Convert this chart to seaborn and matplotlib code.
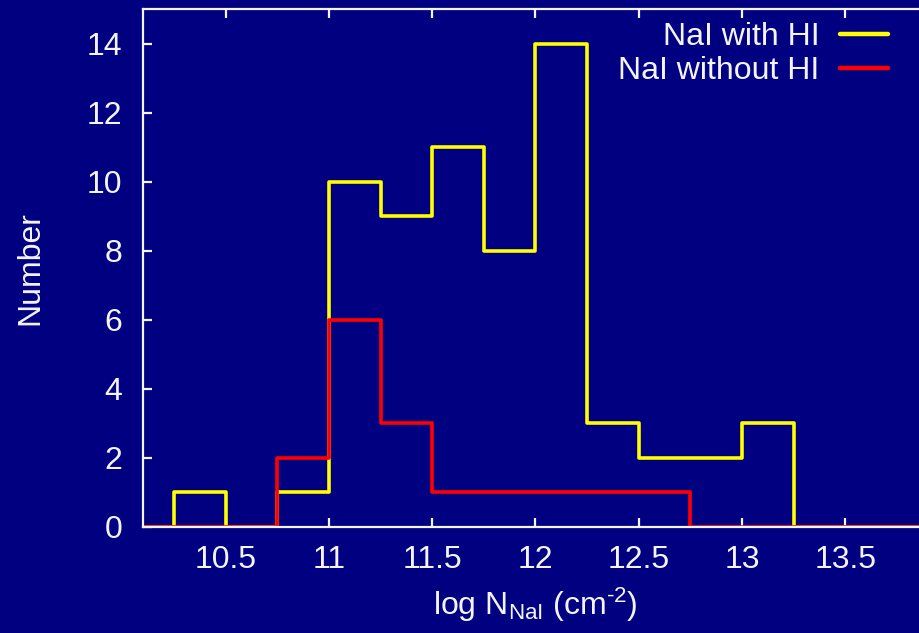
import numpy as np
import pandas as pd
import matplotlib
matplotlib.use("Agg")
import matplotlib.pyplot as plt
from matplotlib.lines import Line2D
import seaborn as sns

# Histogram bins in log N(NaI) and the counts per bin
bin_edges = [10.0, 10.25, 10.5, 10.75, 11.0, 11.25, 11.5, 11.75, 12.0,
             12.25, 12.5, 12.75, 13.0, 13.25, 13.5, 13.75, 14.0]
with_hi = [0, 1, 0, 1, 10, 9, 11, 8, 14, 3, 2, 2, 3, 0, 0, 0]
without_hi = [0, 0, 0, 2, 6, 3, 1, 1, 1, 1, 1, 0, 0, 0, 0, 0]

x_ticks = [10.5, 11, 11.5, 12, 12.5, 13, 13.5]
x_tick_labels = ["10.5", "11", "11.5", "12", "12.5", "13", "13.5"]
y_ticks = [0, 2, 4, 6, 8, 10, 12, 14]

series_labels = ["NaI with HI", "NaI without HI"]
series_colors = ["#ffff00", "#ff0000"]

BG = "#000080"
FG = "#f4f4ff"

sns.set_theme(style="white")
plt.rcParams["font.family"] = ["Liberation Sans", "DejaVu Sans"]
plt.rcParams["mathtext.fontset"] = "custom"
plt.rcParams["mathtext.rm"] = "Liberation Sans"
plt.rcParams["mathtext.it"] = "Liberation Sans:italic"

centers = [(a + b) / 2 for a, b in zip(bin_edges[:-1], bin_edges[1:])]
df = pd.DataFrame({"center": centers, "with": with_hi, "without": without_hi})

W, H = 919, 633
fig = plt.figure(figsize=(W / 100, H / 100), dpi=100, facecolor=BG)
ax_l, ax_r, ax_b, ax_t = 143, 928, 526.7, 9.3
ax = fig.add_axes([ax_l / W, (H - ax_b) / H, (ax_r - ax_l) / W, (ax_b - ax_t) / H])
ax.set_facecolor(BG)

lw = 2.6
sns.histplot(data=df, x="center", weights="with", bins=bin_edges, element="step",
             fill=False, color=series_colors[0], linewidth=lw, ax=ax, zorder=2)
sns.histplot(data=df, x="center", weights="without", bins=bin_edges, element="step",
             fill=False, color=series_colors[1], linewidth=lw, ax=ax, zorder=2.1)

ax.set_xlim(10.1, 13.9)
ax.set_ylim(0, 15)
ax.set_xticks(x_ticks)
ax.set_xticklabels(x_tick_labels)
ax.set_yticks(y_ticks)

fs = 23
for sp in ax.spines.values():
    sp.set_color(FG)
    sp.set_linewidth(1.6)
    sp.set_zorder(3)
ax.tick_params(axis="both", which="major", direction="in", length=6.5, width=1.6,
               color=FG, labelcolor=FG, labelsize=fs,
               top=True, right=True, bottom=True, left=True)
ax.tick_params(axis="x", pad=13.5)
ax.tick_params(axis="y", pad=15)

ax.set_xlabel(r"log N$_{\rm NaI}$ (cm$^{\text{-}2}$)", color=FG, fontsize=fs, labelpad=7.5)
ax.set_ylabel("Number", color=FG, fontsize=fs)
ax.yaxis.set_label_coords((45 - ax_l) / (ax_r - ax_l), 0.5)

handles = [Line2D([], [], color=c, linewidth=3.2) for c in series_colors]
leg = fig.legend(handles, series_labels, loc="upper right",
                 bbox_to_anchor=(888 / W, (H - 22) / H), frameon=False,
                 markerfirst=False, fontsize=fs, handlelength=1.5,
                 handletextpad=0.65, labelspacing=0.13, borderpad=0,
                 borderaxespad=0)
for t in leg.get_texts():
    t.set_color(FG)

fig.savefig("out.png", dpi=100, facecolor=BG)
